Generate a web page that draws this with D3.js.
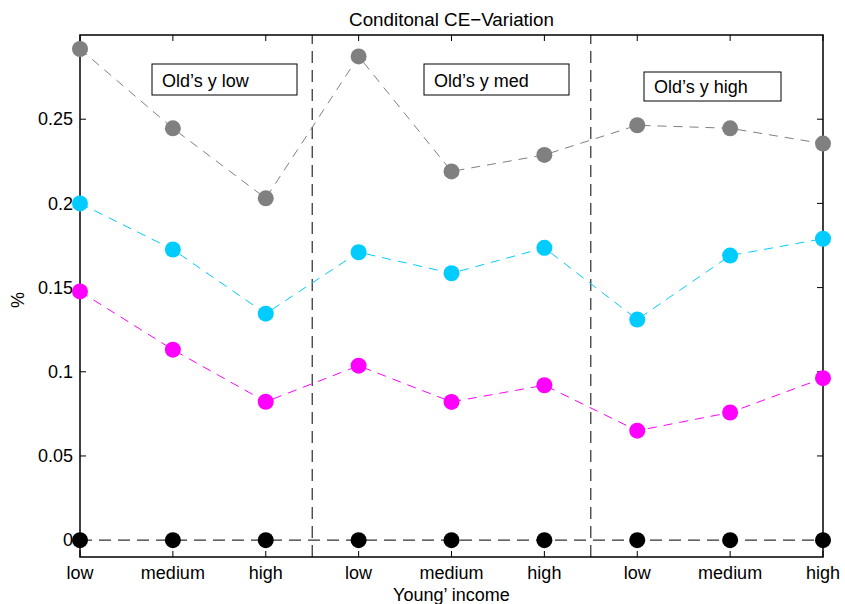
<!DOCTYPE html>
<html>
<head>
<meta charset="utf-8">
<script src="https://cdn.jsdelivr.net/npm/d3@7"></script>
<style>
  body { margin: 0; background: #fff; }
  svg { font-family: 'Liberation Sans', Arial, sans-serif; }
</style>
</head>
<body>
<div id="chart"></div>
<script>
const incomeLabels = ['low', 'medium', 'high', 'low', 'medium', 'high', 'low', 'medium', 'high'];
const groupLabels = ['Old\u2019s y low', 'Old\u2019s y med', 'Old\u2019s y high'];
const yTicks = [0, 0.05, 0.1, 0.15, 0.2, 0.25];

const grayVals = [0.2917, 0.2446, 0.203, 0.2873, 0.219, 0.2288, 0.2464, 0.2446, 0.2355];
const cyanVals = [0.2, 0.1726, 0.1345, 0.171, 0.1585, 0.1736, 0.131, 0.169, 0.179];
const magentaVals = [0.1477, 0.1131, 0.0822, 0.1036, 0.0821, 0.092, 0.065, 0.0758, 0.0962];
const zeroVals = [0, 0, 0, 0, 0, 0, 0, 0, 0];

const width = 845, height = 604;
const margin = { top: 35, right: 22, bottom: 47, left: 80 };

const svg = d3.select('#chart')
  .append('svg')
  .attr('width', width)
  .attr('height', height);

const x = d3.scaleLinear()
  .domain([1, incomeLabels.length])
  .range([margin.left, width - margin.right]);

const y = d3.scaleLinear()
  .domain([-0.01, 0.3])
  .range([height - margin.bottom, margin.top]);

const x0 = margin.left, x1 = width - margin.right;
const y0 = height - margin.bottom, y1 = margin.top;
const tickLen = 6;

// group separators
[3.5, 6.5].forEach(v => {
  svg.append('line')
    .attr('x1', x(v)).attr('x2', x(v))
    .attr('y1', y0).attr('y2', y1)
    .attr('stroke', '#000')
    .attr('stroke-width', 1)
    .attr('stroke-dasharray', '12,7');
});

// ticks (inward, on all four sides)
const idx = d3.range(1, incomeLabels.length + 1);
const tickG = svg.append('g').attr('stroke', '#000').attr('stroke-width', 1);
idx.forEach(i => {
  tickG.append('line').attr('x1', x(i)).attr('x2', x(i)).attr('y1', y0).attr('y2', y0 - tickLen);
  tickG.append('line').attr('x1', x(i)).attr('x2', x(i)).attr('y1', y1).attr('y2', y1 + tickLen);
});
yTicks.forEach(t => {
  tickG.append('line').attr('x1', x0).attr('x2', x0 + tickLen).attr('y1', y(t)).attr('y2', y(t));
  tickG.append('line').attr('x1', x1).attr('x2', x1 - tickLen).attr('y1', y(t)).attr('y2', y(t));
});

// tick labels
svg.append('g')
  .selectAll('text')
  .data(incomeLabels)
  .join('text')
  .attr('x', (d, i) => x(i + 1))
  .attr('y', y0 + 22)
  .attr('text-anchor', 'middle')
  .attr('font-size', 18)
  .text(d => d);

svg.append('g')
  .selectAll('text')
  .data(yTicks)
  .join('text')
  .attr('x', x0 - 7)
  .attr('y', d => y(d))
  .attr('dy', '0.35em')
  .attr('text-anchor', 'end')
  .attr('font-size', 18)
  .text(d => d3.format('~g')(d));

// series
const series = [
  { vals: grayVals, color: '#808080', dash: '9,7', width: 1 },
  { vals: cyanVals, color: '#00ccff', dash: '9,7', width: 1 },
  { vals: magentaVals, color: '#ff00ff', dash: '9,7', width: 1 },
  { vals: zeroVals, color: '#333', dash: '12,7', width: 1.2 }
];

const line = d3.line()
  .x((d, i) => x(i + 1))
  .y(d => y(d));

series.forEach(s => {
  svg.append('path')
    .datum(s.vals)
    .attr('fill', 'none')
    .attr('stroke', s.color)
    .attr('stroke-width', s.width)
    .attr('stroke-dasharray', s.dash)
    .attr('d', line);
});

// frame
svg.append('rect')
  .attr('x', x0).attr('y', y1)
  .attr('width', x1 - x0).attr('height', y0 - y1)
  .attr('fill', 'none')
  .attr('stroke', '#000')
  .attr('stroke-width', 1.5);

const markerColors = ['#808080', '#00ccff', '#ff00ff', '#000'];
series.forEach((s, k) => {
  svg.append('g')
    .selectAll('circle')
    .data(s.vals)
    .join('circle')
    .attr('cx', (d, i) => x(i + 1))
    .attr('cy', d => y(d))
    .attr('r', 8)
    .attr('fill', markerColors[k]);
});

// group annotation boxes
const boxes = [
  { x: 152, y: 64, w: 145, h: 31 },
  { x: 424, y: 64, w: 145, h: 31 },
  { x: 644, y: 72, w: 137, h: 29 }
];
groupLabels.forEach((g, i) => {
  const b = boxes[i];
  svg.append('rect')
    .attr('x', b.x).attr('y', b.y)
    .attr('width', b.w).attr('height', b.h)
    .attr('fill', '#fff')
    .attr('stroke', '#000')
    .attr('stroke-width', 1);
  svg.append('text')
    .attr('x', b.x + 10)
    .attr('y', b.y + b.h - 8)
    .attr('font-size', 18)
    .text(g);
});

// titles
svg.append('text')
  .attr('x', (x0 + x1) / 2)
  .attr('y', 26)
  .attr('text-anchor', 'middle')
  .attr('font-size', 18.8)
  .text('Conditonal CE\u2212Variation');

svg.append('text')
  .attr('x', (x0 + x1) / 2)
  .attr('y', 601)
  .attr('text-anchor', 'middle')
  .attr('font-size', 18)
  .text('Young\u2019 income');

svg.append('text')
  .attr('transform', `translate(24,${(y0 + y1) / 2 + 4}) rotate(-90)`)
  .attr('text-anchor', 'middle')
  .attr('font-size', 18)
  .text('%');
</script>
</body>
</html>
